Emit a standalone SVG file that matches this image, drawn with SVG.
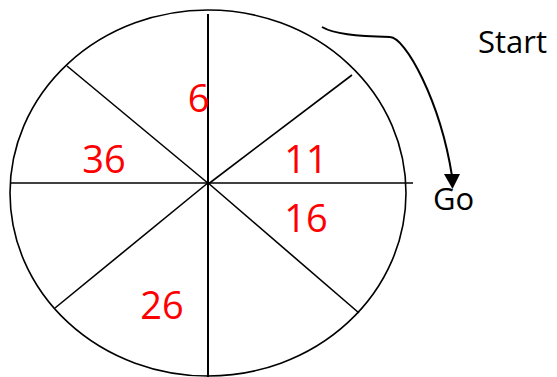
<svg xmlns="http://www.w3.org/2000/svg" width="557" height="377" viewBox="0 0 557 377">
<style>
.ln{stroke:#000;stroke-width:1.6;fill:none}
.num{font-family:"Open Sans","Liberation Sans",Arial,sans-serif;font-size:38px;fill:#FF0000;text-anchor:middle}
.lbl{font-family:"Open Sans","Liberation Sans",Arial,sans-serif;font-size:31px;fill:#000}
</style>
<rect width="557" height="377" fill="#fff"/>
<g id="wheel">
<ellipse class="ln" cx="208" cy="193" rx="198" ry="183"/>
<line class="ln" x1="208" y1="14" x2="208" y2="377" style="stroke-width:2"/>
<line class="ln" x1="11" y1="183" x2="413" y2="183"/>
<line class="ln" x1="67" y1="66" x2="209" y2="184"/>
<line class="ln" x1="352" y1="75" x2="207" y2="185"/>
<line class="ln" x1="55" y1="308" x2="209" y2="182"/>
<line class="ln" x1="359" y1="313" x2="207" y2="182"/>
</g>
<g id="numbers">
<text class="num" x="198.5" y="112">6</text>
<text class="num" x="104" y="173">36</text>
<text class="num" x="306" y="173">11</text>
<text class="num" x="306" y="232">16</text>
<text class="num" x="162" y="319">26</text>
</g>
<g id="start"><text class="lbl" x="478" y="53">Start</text></g>
<g id="go"><text class="lbl" x="433" y="210">Go</text></g>
<g id="connectors">
<path class="ln" style="stroke-width:2" d="M322 27 C334 34,355 36,390 37 C405 37,440 100,452 176"/>
<polygon points="444,174 460,174 452.5,189" fill="#000"/>
</g>
</svg>
